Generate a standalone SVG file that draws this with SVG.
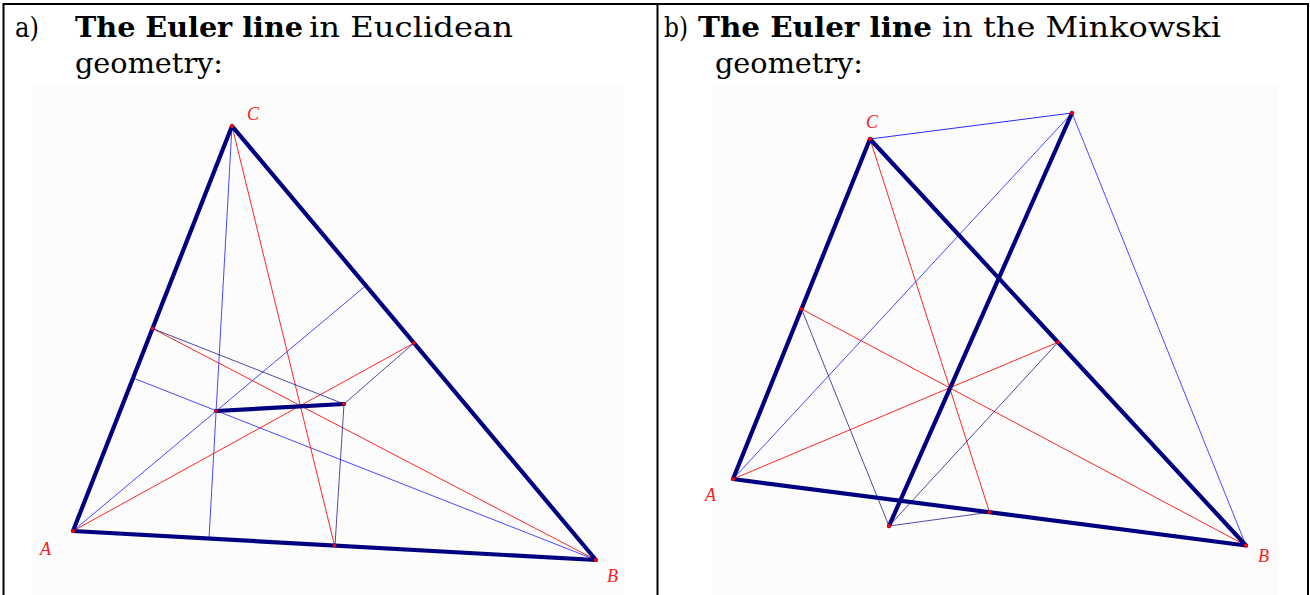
<svg xmlns="http://www.w3.org/2000/svg" width="1310" height="595" viewBox="0 0 1310 595">
<defs>
<style>
.hd{font-family:"DejaVu Serif","Liberation Serif",serif;font-size:28px;fill:#000}
.b{font-weight:bold}
.lbl{font-family:"Liberation Serif","DejaVu Serif",serif;font-style:italic;font-size:18px;fill:#ff1a1a}
.side{stroke:#000080;stroke-width:4.2;fill:none;stroke-linecap:round;stroke-linejoin:round}
.euler{stroke:#000080;stroke-width:4.2;fill:none;stroke-linecap:round}
.blue{stroke:#2a2aff;stroke-width:1;stroke-opacity:0.85;fill:none}
.red{stroke:#ff0000;stroke-width:1;stroke-opacity:0.85;fill:none}
.nav{stroke:#000080;stroke-width:1;stroke-opacity:0.7;fill:none}
.pt{fill:#ff0000}
.bg{fill:#fcfcfc}
.frame{stroke:#000;stroke-width:2;fill:none}
</style>
</defs>
<rect x="0" y="0" width="1310" height="595" fill="#fff"/>
<g id="frame">
<line class="frame" x1="3.5" y1="4" x2="1308" y2="4"/>
<line class="frame" x1="3.5" y1="3" x2="3.5" y2="595"/>
<line class="frame" x1="657.5" y1="3" x2="657.5" y2="595"/>
<line class="frame" x1="1308" y1="3" x2="1308" y2="595"/>
</g>
<g id="header-a">
<text class="hd" x="15" y="37" textLength="24" lengthAdjust="spacingAndGlyphs">a)</text>
<text class="hd b" x="75" y="37" textLength="228" lengthAdjust="spacingAndGlyphs">The Euler line</text>
<text class="hd" x="309" y="37" textLength="204" lengthAdjust="spacingAndGlyphs">in Euclidean</text>
<text class="hd" x="75" y="73" textLength="148" lengthAdjust="spacingAndGlyphs">geometry:</text>
</g>
<g id="header-b">
<text class="hd" x="664" y="37" textLength="24" lengthAdjust="spacingAndGlyphs">b)</text>
<text class="hd b" x="698" y="37" textLength="234" lengthAdjust="spacingAndGlyphs">The Euler line</text>
<text class="hd" x="942" y="37" textLength="279" lengthAdjust="spacingAndGlyphs">in the Minkowski</text>
<text class="hd" x="715" y="73" textLength="148" lengthAdjust="spacingAndGlyphs">geometry:</text>
</g>
<rect class="bg" x="32" y="85" width="592" height="510"/>
<rect class="bg" x="712" y="85" width="566" height="510"/>
<g id="euclid">
<g id="euclid-connectors">
<line class="blue" x1="232" y1="126" x2="209" y2="538.5"/>
<line class="blue" x1="73" y1="531" x2="366" y2="285.5"/>
<line class="blue" x1="596" y1="560" x2="133" y2="378"/>
<line class="red" x1="232" y1="126" x2="334.5" y2="545.5"/>
<line class="red" x1="73" y1="531" x2="414" y2="343"/>
<line class="red" x1="596" y1="560" x2="152.5" y2="328.5"/>
<line class="nav" x1="344" y1="404" x2="152.5" y2="328.5"/>
<line class="nav" x1="344" y1="404" x2="414" y2="343"/>
<line class="nav" x1="344" y1="404" x2="335" y2="545.5"/>
<polygon class="side" points="73,531 596,560 232,126"/>
<line class="euler" x1="216" y1="411" x2="344" y2="404"/>
</g>
<g id="euclid-A"><circle class="pt" cx="73" cy="531" r="2"/><text class="lbl" x="40" y="555">A</text></g>
<g id="euclid-B"><circle class="pt" cx="596" cy="560" r="2"/><text class="lbl" x="607" y="582">B</text></g>
<g id="euclid-C"><circle class="pt" cx="232" cy="126" r="2"/><text class="lbl" x="247" y="120">C</text></g>
<g id="euclid-mid"><circle class="pt" cx="152.5" cy="328.5" r="1.8"/><circle class="pt" cx="414" cy="343" r="1.8"/><circle class="pt" cx="334.5" cy="545.5" r="1.8"/></g>
<g id="euclid-H"><circle class="pt" cx="216" cy="411" r="1.8"/></g>
<g id="euclid-O"><circle class="pt" cx="344" cy="404" r="1.8"/></g>
</g>
<g id="minkowski">
<g id="mink-connectors">
<line class="blue" x1="870" y1="139" x2="1072" y2="113" style="stroke-opacity:1"/>
<line class="blue" x1="1072" y1="113" x2="733" y2="479"/>
<line class="blue" x1="1072" y1="113" x2="1246" y2="545.5"/>
<line class="red" x1="870" y1="139" x2="989.5" y2="512.25"/>
<line class="red" x1="733" y1="479" x2="1058" y2="342.25"/>
<line class="red" x1="1246" y1="545.5" x2="801.5" y2="309"/>
<line class="nav" x1="801.5" y1="309" x2="889" y2="526"/>
<line class="nav" x1="889" y1="526" x2="1058" y2="342.25"/>
<line class="nav" x1="889" y1="526" x2="989.5" y2="512.25"/>
<polygon class="side" points="733,479 1246,545.5 870,139"/>
<line class="euler" x1="1072" y1="113" x2="889" y2="526"/>
</g>
<g id="mink-A"><circle class="pt" cx="733" cy="479" r="2"/><text class="lbl" x="705" y="501">A</text></g>
<g id="mink-B"><circle class="pt" cx="1246" cy="545.5" r="2"/><text class="lbl" x="1258" y="562">B</text></g>
<g id="mink-C"><circle class="pt" cx="870" cy="139" r="2"/><text class="lbl" x="866" y="128">C</text></g>
<g id="mink-P"><circle class="pt" cx="1072" cy="113" r="2"/></g>
<g id="mink-Q"><circle class="pt" cx="889" cy="526" r="2"/></g>
<g id="mink-mid"><circle class="pt" cx="801.5" cy="309" r="1.8"/><circle class="pt" cx="1058" cy="342.25" r="1.8"/><circle class="pt" cx="989.5" cy="512.25" r="1.8"/></g>
</g>
</svg>
